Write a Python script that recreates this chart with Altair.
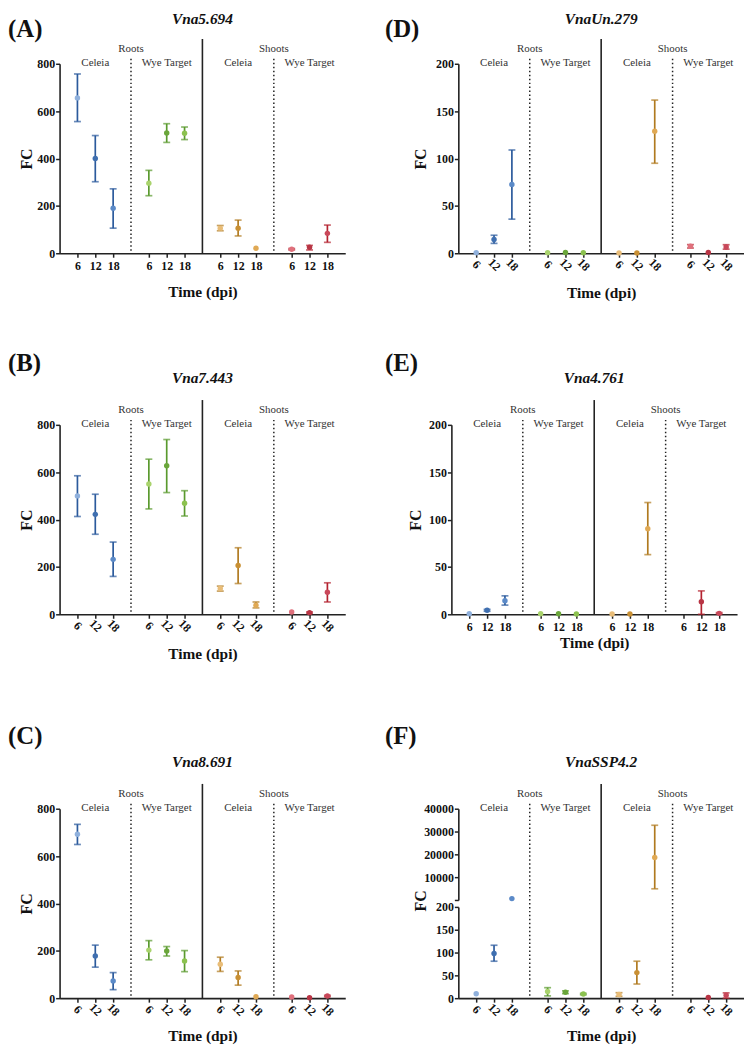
import altair as alt
import pandas as pd

# ---------------- data ----------------
TISSUES = ["Roots", "Shoots"]
CULTIVARS = ["Celeia", "Wye Target"]
TIMES = ["6", "12", "18"]
GROUPS = ["Roots Celeia", "Roots Wye Target", "Shoots Celeia", "Shoots Wye Target"]

BAR_COLORS = ["#2b5a9c", "#5a9a2e", "#b07a20", "#b3222f"]
POINT_COLORS = [
    "#8fb0dc", "#3f6fb0", "#5b8ac8",
    "#a9d36c", "#6aa63a", "#8cc24f",
    "#e9bd78", "#c99034", "#e0a954",
    "#e0707c", "#b83444", "#c9485a",
]

A_mean = [656, 400, 190, 296, 508, 507, 106, 106, 21, 17, 25, 84]
A_lo = [556, 302, 106, 243, 468, 480, 95, 73, None, 14, 14, 46]
A_hi = [757, 497, 272, 350, 547, 533, 117, 140, None, 20, 33, 119]

B_mean = [500, 422, 232, 550, 627, 469, 109, 206, 38, 10, 7, 93]
B_lo = [413, 338, 160, 445, 514, 415, 98, 130, 27, None, 4, 52]
B_hi = [585, 507, 305, 655, 738, 522, 119, 281, 52, None, 10, 133]

C_mean = [692, 178, 73, 203, 199, 157, 143, 87, 6, 5, 2, 9]
C_lo = [649, 131, 36, 162, 178, 112, 113, 55, None, None, None, 6]
C_hi = [734, 224, 108, 243, 218, 201, 173, 115, None, None, None, 12]

D_mean = [0.5, 14.6, 72.7, 0.5, 0.8, 0.5, 0.3, 0.3, 128.7, 7.3, 0.8, 6.6]
D_lo = [None, 10.4, 36, None, None, None, None, None, 95, 5.5, None, 4.3]
D_hi = [None, 19, 109, None, None, None, None, None, 161.7, 9.1, None, 9]

E_mean = [0.5, 4.2, 14.3, 0.6, 0.5, 0.3, 0.3, 0.3, 90.4, None, 13.2, 1.0]
E_lo = [None, 3.2, 9.7, None, None, None, None, None, 63, None, 0, 0.3]
E_hi = [None, 5.2, 19.5, None, None, None, None, None, 118, None, 24.7, 1.8]

F_mean = [9.5, 98, 600, 14.5, 13, 9, 8, 56, 18600, None, 1.5, 6.5]
F_lo = [None, 81, None, 5, 10, 7.5, 4, 31, 4900, None, None, 0]
F_hi = [None, 116, None, 23, 16, 10.5, 12, 81, 32750, None, None, 11.6]

Y_TICKS_800 = [0, 200, 400, 600, 800]
Y_TICKS_200 = [0, 50, 100, 150, 200]
Y_TICKS_F_UP = [0, 10000, 20000, 30000, 40000]

# ---------------- style ----------------
W, H = 288, 191
SERIF = "Liberation Serif, Times New Roman, DejaVu Serif, serif"
INK = "#222222"
N_SLOTS = 4 * len(GROUPS)  # x domain 0..16

X_VALUES = [4 * g + t + 1 for g in range(len(GROUPS)) for t in range(len(TIMES))]
LABEL_EXPR = "[" + ",".join("'%s'" % t for t in TIMES) + "][(datum.value - 1) % 4]"


def make_df(mean, lo, hi):
    rows = []
    for g, grp in enumerate(GROUPS):
        for t, tm in enumerate(TIMES):
            i = g * len(TIMES) + t
            rows.append(dict(group=grp, time=tm, x=4 * g + t + 1,
                             mean=mean[i], lo=lo[i], hi=hi[i],
                             bar=BAR_COLORS[g], pt=POINT_COLORS[i]))
    return pd.DataFrame(rows)


def x_axis(rot, title_y):
    kw = dict(values=X_VALUES, labelExpr=LABEL_EXPR, title="Time (dpi)", grid=False,
              tickSize=4, tickColor=INK, tickWidth=1.5, domainColor=INK, domainWidth=1.6,
              labelFont=SERIF, labelFontWeight="bold", labelFontSize=12, labelColor="#111",
              labelOverlap=False, labelFlush=False,
              titleFont=SERIF, titleFontWeight="bold", titleFontSize=15.5, titleColor="#111",
              titleY=title_y, titleBaseline="middle")
    if rot:
        kw.update(labelAngle=45, labelAlign="center", labelBaseline="middle", labelPadding=7)
    else:
        kw.update(labelAngle=0, labelPadding=3)
    return alt.Axis(**kw)


def y_axis(values, title, title_x, title_y, hide_zero=False):
    kw = dict(values=values, grid=False, tickSize=4, tickColor=INK, tickWidth=1.5,
              domainColor=INK, domainWidth=1.6, orient="left",
              labelFont=SERIF, labelFontWeight="bold", labelFontSize=12, labelColor="#111",
              labelPadding=1, format="d", labelOverlap=False, labelFlush=False,
              titleFont=SERIF, titleFontWeight="bold", titleFontSize=16, titleColor="#111")
    if title:
        kw.update(title=title, titleX=title_x, titleY=title_y, titleAngle=-90,
                  titleBaseline="middle", titleAlign="center")
    else:
        kw.update(title=None)
    if hide_zero:
        kw.update(labelExpr="datum.value == 0 ? '' : datum.label")
    return alt.Axis(**kw)


def data_layers(df, xenc, ydom, yrange, yax):
    sc = dict(domain=ydom, nice=False, zero=True)
    if yrange is not None:
        sc["range"] = yrange
    ysc = alt.Scale(**sc)
    err = df[df["lo"].notna()]
    pts = df[df["mean"].notna()]
    layers = []
    if len(err):
        b = alt.Chart(err)
        layers.append(b.mark_rule(strokeWidth=1.7).encode(
            x=xenc, y=alt.Y("lo:Q", scale=ysc, axis=yax), y2="hi:Q",
            color=alt.Color("bar:N", scale=None)))
        layers.append(b.mark_tick(orient="horizontal", size=7, thickness=1.7).encode(
            x=xenc, y=alt.Y("lo:Q", scale=ysc, axis=yax), color=alt.Color("bar:N", scale=None)))
        layers.append(b.mark_tick(orient="horizontal", size=7, thickness=1.7).encode(
            x=xenc, y=alt.Y("hi:Q", scale=ysc, axis=yax), color=alt.Color("bar:N", scale=None)))
    layers.append(alt.Chart(pts).mark_circle(size=30, opacity=1).encode(
        x=xenc, y=alt.Y("mean:Q", scale=ysc, axis=yax), color=alt.Color("pt:N", scale=None)))
    return alt.layer(*layers)


def panel(name, letter, mean, lo, hi, rot, xt_y, yt_x, letter_xy, title_y=-47,
          broken=False, ymax=800):
    df = make_df(mean, lo, hi)
    xenc = alt.X("x:Q", scale=alt.Scale(domain=[0, N_SLOTS], nice=False, zero=False),
                 axis=x_axis(rot, xt_y))

    bounds = [4 * g for g in range(1, len(GROUPS))]
    div = pd.DataFrame({"x": bounds, "kind": ["dot", "solid", "dot"]})
    dotted = alt.Chart(div[div.kind == "dot"]).mark_rule(
        color=INK, strokeWidth=1.5, strokeDash=[1.5, 2.5]).encode(
        x=xenc, y=alt.value(-5), y2=alt.value(H))
    solid = alt.Chart(div[div.kind == "solid"]).mark_rule(
        color=INK, strokeWidth=1.6).encode(x=xenc, y=alt.value(-25), y2=alt.value(H))

    tis = pd.DataFrame({"x": [4, 12], "lab": TISSUES})
    cul = pd.DataFrame({"x": [2, 6, 10, 14], "lab": CULTIVARS * 2})
    tis_t = alt.Chart(tis).mark_text(font=SERIF, fontSize=11, color="#333").encode(
        x=xenc, y=alt.value(-15), text="lab:N")
    cul_t = alt.Chart(cul).mark_text(font=SERIF, fontSize=11, color="#333").encode(
        x=xenc, y=alt.value(-1), text="lab:N")

    ttl = alt.Chart(pd.DataFrame({"t": [name]})).mark_text(
        font=SERIF, fontSize=15.5, fontWeight="bold", fontStyle="italic", color="#111",
        baseline="middle").encode(x=alt.value(W / 2), y=alt.value(title_y), text="t:N")
    let = alt.Chart(pd.DataFrame({"t": [letter]})).mark_text(
        font=SERIF, fontSize=25, fontWeight="bold", color="#111", align="left",
        baseline="top").encode(x=alt.value(letter_xy[0]), y=alt.value(letter_xy[1]), text="t:N")

    if not broken:
        ticks = Y_TICKS_800 if ymax == 800 else Y_TICKS_200
        dl = data_layers(df, xenc, [0, ymax], None, y_axis(ticks, "FC", yt_x, H / 2))
        ch = alt.layer(dotted, solid, tis_t, cul_t, dl, ttl, let)
    else:
        low = df[(df["mean"].isna()) | (df["mean"] <= 200)]
        up = df[df["mean"] > 200]
        dl_low = data_layers(low, xenc, [0, 200], [H, H - 92],
                             y_axis(Y_TICKS_200, "FC", yt_x, H / 2 - 3))
        dl_up = data_layers(up, xenc, [0, 40000], [H - 99, 0],
                            y_axis(Y_TICKS_F_UP, None, 0, 0, hide_zero=True))
        ch = alt.layer(dotted, solid, tis_t, cul_t, dl_low, dl_up, ttl, let).resolve_scale(
            y="independent")
    return ch.properties(width=W, height=H)


pA = panel("Vna5.694", "(A)", A_mean, A_lo, A_hi, False, 39, -33, (-52, -47), title_y=-45)
pD = panel("VnaUn.279", "(D)", D_mean, D_lo, D_hi, True, 40, -38, (-74, -47), title_y=-45,
           ymax=200)
pB = panel("Vna7.443", "(B)", B_mean, B_lo, B_hi, True, 40, -33, (-52, -74))
pE = panel("Vna4.761", "(E)", E_mean, E_lo, E_hi, False, 28, -36, (-67, -74), ymax=200)
pC = panel("Vna8.691", "(C)", C_mean, C_lo, C_hi, True, 38, -33, (-52, -85))
pF = panel("VnaSSP4.2", "(F)", F_mean, F_lo, F_hi, True, 38, -38, (-74, -85), broken=True)

row1 = alt.hconcat(pA, pD, spacing=40)
row2 = alt.hconcat(pB, pE, spacing=40)
row3 = alt.hconcat(pC, pF, spacing=40)

chart = alt.vconcat(row1, alt.vconcat(row2, row3, spacing=62), spacing=50).properties(
    padding=0, background="white"
).configure_view(stroke=None)

chart.save("out.html", embed_options={"renderer": "svg", "actions": False})
